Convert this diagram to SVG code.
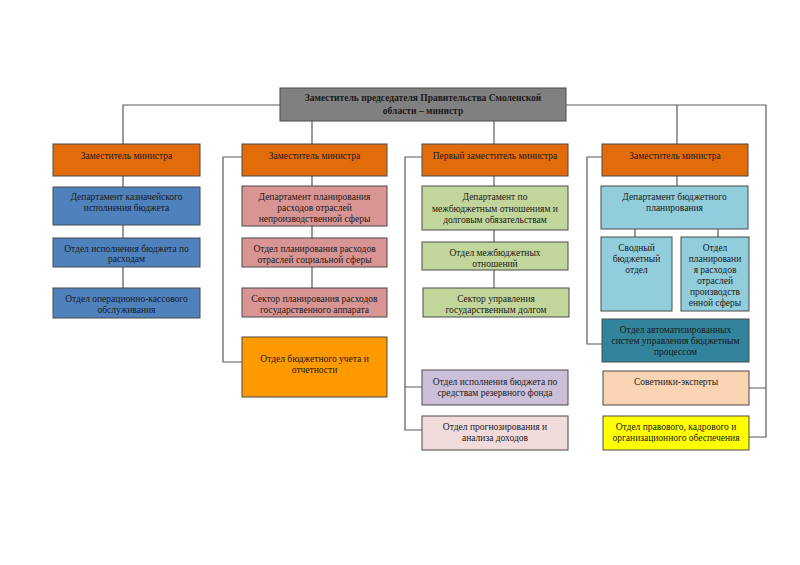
<svg xmlns="http://www.w3.org/2000/svg" width="800" height="565" viewBox="0 0 800 565">
<style>
.b{stroke:#4a4a4a;stroke-width:1}
.c{fill:none;stroke:#5a5a5a;stroke-width:1.2}
text{font-family:"Liberation Serif","Times New Roman",serif;font-size:9.5px;fill:#1a1a1a;text-anchor:middle}
.t{font-weight:bold;font-size:9.5px}
.or{fill:#E36C0A}.bl{fill:#4F81BD}.pk{fill:#D99594}.org{fill:#FF9900}.gr{fill:#C2D69B}.pu{fill:#CCC0D9}.lp{fill:#F2DBDB}.lb{fill:#92CDDC}.tl{fill:#31849B}.pe{fill:#FBD4B4}.ye{fill:#FFFF00}
</style>
<rect width="800" height="565" fill="#ffffff"/>
<g id="connectors">
<path class="c" d="M123,288 V105 H766 V437 H749 M766,388 H749"/>
<path class="c" d="M312,121 V288 M494,121 V288 M677,105 V186 M635,229 V237 M718,229 V237"/>
<path class="c" d="M242,157 H223 V362 H242"/>
<path class="c" d="M422,157 H405 V430 H422 M405,387 H422"/>
<path class="c" d="M602,157 H587 V344 H602"/>
</g>
<g id="top"><rect class="b" x="280" y="88" width="286" height="33" fill="#808080"/><text class="t" x="423" y="100.5">Заместитель председателя Правительства Смоленской</text><text class="t" x="423" y="114">области – министр</text></g>
<g id="c1h"><rect class="b or" x="53" y="144" width="147" height="32"/><text x="126.5" y="158.5">Заместитель министра</text></g>
<g id="c1a"><rect class="b bl" x="53" y="187" width="147" height="38"/><text x="126.5" y="199.5">Департамент казначейского</text><text x="126.5" y="210.5">исполнения бюджета</text></g>
<g id="c1b"><rect class="b bl" x="53" y="238" width="147" height="29"/><text x="126.5" y="251.5">Отдел исполнения бюджета по</text><text x="126.5" y="261.5">расходам</text></g>
<g id="c1c"><rect class="b bl" x="53" y="288" width="147" height="30"/><text x="126.5" y="301.5">Отдел операционно-кассового</text><text x="126.5" y="312.5">обслуживания</text></g>
<g id="c2h"><rect class="b or" x="242" y="144" width="145" height="32"/><text x="314.5" y="158.5">Заместитель министра</text></g>
<g id="c2a"><rect class="b pk" x="242" y="186" width="145" height="40"/><text x="314.5" y="199.5">Департамент планирования</text><text x="314.5" y="210.5">расходов отраслей</text><text x="314.5" y="222">непроизводственной сферы</text></g>
<g id="c2b"><rect class="b pk" x="242" y="238" width="145" height="29"/><text x="314.5" y="252">Отдел планирования расходов</text><text x="314.5" y="262.5">отраслей социальной сферы</text></g>
<g id="c2c"><rect class="b pk" x="242" y="288" width="145" height="29"/><text x="314.5" y="301.5">Сектор планирования расходов</text><text x="314.5" y="312.5">государственного аппарата</text></g>
<g id="c2d"><rect class="b org" x="242" y="337" width="145" height="60"/><text x="314.5" y="361.5">Отдел бюджетного учета и</text><text x="314.5" y="373">отчетности</text></g>
<g id="c3h"><rect class="b or" x="422" y="144" width="146" height="32"/><text x="495" y="158.5">Первый заместитель министра</text></g>
<g id="c3a"><rect class="b gr" x="422" y="186" width="146" height="44"/><text x="495" y="200">Департамент по</text><text x="495" y="211.5">межбюджетным отношениям и</text><text x="495" y="222.5">долговым обязательствам</text></g>
<g id="c3b"><rect class="b gr" x="422" y="242" width="146" height="28"/><text x="495" y="256">Отдел межбюджетных</text><text x="495" y="266.5">отношений</text></g>
<g id="c3c"><rect class="b gr" x="423" y="288" width="146" height="29"/><text x="496" y="301.5">Сектор управления</text><text x="496" y="312.5">государственным долгом</text></g>
<g id="c3d"><rect class="b pu" x="422" y="370" width="146" height="35"/><text x="495" y="384.5">Отдел исполнения бюджета  по</text><text x="495" y="395.5">средствам резервного фонда</text></g>
<g id="c3e"><rect class="b lp" x="422" y="416" width="146" height="34"/><text x="495" y="429.5">Отдел прогнозирования и</text><text x="495" y="440.5">анализа доходов</text></g>
<g id="c4h"><rect class="b or" x="602" y="144" width="146" height="32"/><text x="675" y="158.5">Заместитель министра</text></g>
<g id="c4a"><rect class="b lb" x="601" y="186" width="147" height="43"/><text x="674.5" y="199.5">Департамент бюджетного</text><text x="674.5" y="210.5">планирования</text></g>
<g id="c4b"><rect class="b lb" x="601" y="237" width="71" height="74"/><text x="636.5" y="250.5">Сводный</text><text x="636.5" y="261.5">бюджетный</text><text x="636.5" y="272.5">отдел</text></g>
<g id="c4c"><rect class="b lb" x="681" y="237" width="68" height="74"/><text x="715" y="250.5">Отдел</text><text x="715" y="261.5">планировани</text><text x="715" y="272.5">я расходов</text><text x="715" y="283.5">отраслей</text><text x="715" y="294.5">производств</text><text x="715" y="305.5">енной сферы</text></g>
<g id="c4d"><rect class="b tl" x="602" y="319" width="147" height="43"/><text x="675.5" y="332.5">Отдел автоматизированных</text><text x="675.5" y="343.5">систем управления бюджетным</text><text x="675.5" y="354.5">процессом</text></g>
<g id="c4e"><rect class="b pe" x="603" y="371" width="146" height="34"/><text x="676" y="384.5">Советники-эксперты</text></g>
<g id="c4f"><rect class="b ye" x="603" y="416" width="146" height="34"/><text x="676" y="429.5">Отдел правового, кадрового и</text><text x="676" y="440.5">организационного обеспечения</text></g>
</svg>
